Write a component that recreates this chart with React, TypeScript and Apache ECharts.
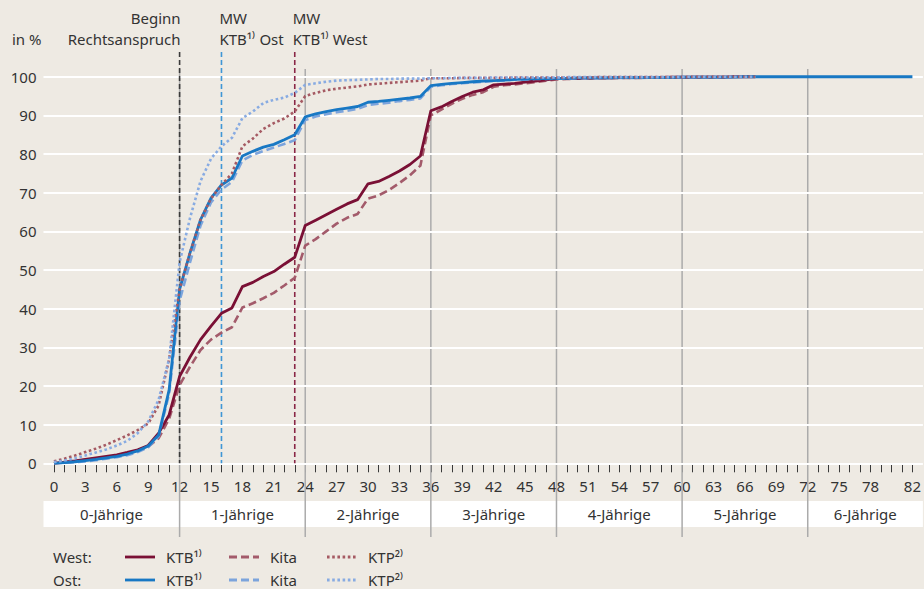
import React, { useEffect, useRef } from "react";
import * as echarts from "echarts";

// Months (x values) 0..82
const months: number[] = [];
for (let i = 0; i <= 82; i++) months.push(i);

const westKTB = [
  0, 0.3, 0.6, 1.0, 1.4, 1.8, 2.2, 2.8, 3.5, 4.6,
  7.8, 12.5, 22.5, 27.5, 32, 35.5, 38.8, 40.2, 45.7, 46.8,
  48.3, 49.6, 51.5, 53.3, 61.5, 62.9, 64.3, 65.7, 67.1, 68.2,
  72.3, 72.9, 74.2, 75.6, 77.3, 79.5, 91.2, 92.2, 93.6, 94.9,
  96, 96.6, 97.9, 98.1, 98.3, 98.6, 98.9, 99.2, 99.5, 99.6,
  99.6, 99.7, 99.7, 99.7, 99.8, 99.8, 99.8, 99.8, 99.8, 99.9,
  99.9, 99.9, 99.9, 99.9, 99.9, 100, 100, 100,
];
const westKita = [
  0, 0.2, 0.5, 0.9, 1.2, 1.5, 1.9, 2.5, 3.2, 4.3,
  6.5, 11.5, 20.2, 25, 29.3, 32, 33.8, 35.2, 40.3, 41.4,
  42.7, 44.1, 46, 48, 56.3, 58, 60, 62, 63.5, 64.5,
  68.5, 69.3, 70.7, 72.5, 74.5, 77, 90, 91.5, 93, 94.3,
  95.3, 96, 97.4, 97.8, 98, 98.3, 98.6, 99, 99.3, 99.4,
  99.5, 99.5, 99.6, 99.6, 99.7, 99.7, 99.7, 99.8, 99.8, 99.8,
  99.8, 99.9, 99.9, 99.9, 99.9, 100, 100, 100,
];
const westKTP = [
  0.5, 1.2, 2, 2.9, 3.8, 4.8, 6, 7.2, 8.6, 10.3,
  15, 27, 45, 54.5, 63, 68.5, 72, 75, 82, 84,
  86.5, 88, 89.2, 91, 95, 95.8, 96.5, 96.9, 97.2, 97.5,
  98, 98.2, 98.4, 98.6, 98.8, 99, 99.6, 99.6, 99.6, 99.7,
  99.7, 99.7, 99.7, 99.7, 99.8, 99.8, 99.8, 99.8, 99.8, 99.8,
  99.8, 99.8, 99.9, 99.9, 99.9, 99.9, 99.9, 99.9, 99.9, 99.9,
  99.9, 100, 100, 100, 100, 100, 100, 100,
];
const ostKTB = [
  0, 0.2, 0.4, 0.7, 1.0, 1.4, 1.8, 2.4, 3.2, 4.5,
  7.3, 19, 45, 54.5, 63, 68.6, 72, 73.8, 79.5, 80.7,
  81.8, 82.5, 83.7, 85, 89.6, 90.4, 91, 91.5, 91.9, 92.3,
  93.4, 93.6, 93.9, 94.2, 94.5, 94.9, 97.7, 98, 98.3, 98.5,
  98.7, 98.9, 99, 99.1, 99.3, 99.4, 99.5, 99.5, 99.6, 99.6,
  99.7, 99.7, 99.7, 99.7, 99.8, 99.8, 99.8, 99.8, 99.8, 99.8,
  99.9, 99.9, 99.9, 99.9, 99.9, 99.9, 100, 100, 100, 100,
  100, 100, 100, 100, 100, 100, 100, 100, 100, 100,
  100, 100, 100,
];
const ostKita = [
  0, 0.1, 0.3, 0.5, 0.8, 1.2, 1.6, 2.1, 2.9, 4.1,
  7, 18, 42, 52, 61.5, 67.5, 70.8, 72.8, 78.3, 79.8,
  80.8, 81.7, 82.6, 83.6, 88.8, 89.7, 90.3, 90.8, 91.2, 91.7,
  92.7, 93, 93.3, 93.7, 94, 94.4, 97.4, 97.8, 98.1, 98.3,
  98.5, 98.7, 98.9, 99, 99.2, 99.3, 99.4, 99.4, 99.5, 99.5,
  99.6, 99.6, 99.6, 99.7, 99.7, 99.7, 99.7, 99.8, 99.8, 99.8,
  99.8, 99.9, 99.9, 99.9, 99.9, 100, 100, 100,
];
const ostKTP = [
  0.3, 0.7, 1.3, 2, 2.8, 3.6, 4.6, 5.8, 7.8, 10.8,
  16.5, 27, 52, 63.5, 73, 78.8, 82, 84.2, 89.3, 91,
  93.2, 94, 94.6, 95.8, 97.9, 98.3, 98.7, 99, 99.1, 99.2,
  99.3, 99.4, 99.4, 99.5, 99.5, 99.5, 99.6, 99.6, 99.7, 99.7,
  99.7, 99.7, 99.8, 99.8, 99.8, 99.8, 99.8, 99.8, 99.8, 99.9,
  99.9, 99.9, 99.9, 99.9, 99.9, 99.9, 99.9, 99.9, 99.9, 99.9,
  100, 100, 100, 100, 100, 100, 100, 100,
];

const xTickLabels = [0, 3, 6, 9, 12, 15, 18, 21, 24, 27, 30, 33, 36, 39, 42, 45, 48, 51, 54, 57, 60, 63, 66, 69, 72, 75, 78, 82];
const yTickLabels = [0, 10, 20, 30, 40, 50, 60, 70, 80, 90, 100];
const ageGroups = ["0-Jährige", "1-Jährige", "2-Jährige", "3-Jährige", "4-Jährige", "5-Jährige", "6-Jährige"];
const ageGroupCenters = [5.5, 18, 30, 42, 54, 66, 77.5];
const yearBoundaries = [12, 24, 36, 48, 60, 72];
const refLineMonths = { beginn: 12, mwOst: 16, mwWest: 23 };

const FONT = '"Noto Sans", "Open Sans", sans-serif';
const TXT = "#333333";
const BG = "#eeeae3";

const C = {
  westKTB: "#7a1035",
  westKita: "#a35b6b",
  westKTP: "#a55a63",
  ostKTB: "#1878c4",
  ostKita: "#7ca4dc",
  ostKTP: "#88abe2",
};

const KITA_DASH = [8, 4];
const KTP_DASH = [2.6, 2.6];

const pairs = (vals: number[]) => vals.map((v, i) => [months[i], v]);

export default function App() {
  const ref = useRef<HTMLDivElement>(null);
  useEffect(() => {
    if (!ref.current) return;
    const chart = echarts.init(ref.current, null, { renderer: "svg" });
    const line = (name: string, data: number[], color: string, type: any, width: number, z: number) => ({
      name,
      type: "line",
      data: pairs(data),
      showSymbol: false,
      symbol: "none",
      z,
      lineStyle: { color, width, type, cap: "butt", join: "round" },
      silent: true,
    });
    chart.setOption({
      animation: false,
      backgroundColor: BG,
      textStyle: { fontFamily: FONT },
      grid: { left: 43.5, right: 0.5, top: 69, bottom: 125.7, containLabel: false },
      xAxis: [
        {
          type: "value",
          min: -1,
          max: 83,
          position: "bottom",
          offset: 3,
          axisLine: { show: false },
          splitLine: { show: false },
          axisTick: {
            show: true,
            customValues: months,
            length: 9,
            lineStyle: { color: "#3a3a3a", width: 1 },
          },
          axisLabel: {
            customValues: xTickLabels,
            formatter: (v: number) => String(v),
            margin: 12,
            fontSize: 15,
            color: TXT,
            fontFamily: FONT,
          },
        },
        {
          type: "value",
          min: -1,
          max: 83,
          position: "bottom",
          offset: 0,
          z: 5,
          axisLine: { show: false },
          splitLine: { show: false },
          axisTick: { show: false },
          axisLabel: {
            customValues: ageGroupCenters,
            formatter: (v: number) => ageGroups[Math.floor(v / 12)],
            margin: 51,
            verticalAlign: "middle",
            fontSize: 15,
            color: TXT,
            fontFamily: FONT,
          },
        },
      ],
      yAxis: {
        type: "value",
        min: 0,
        max: 102,
        interval: 10,
        z: 1,
        axisLine: { show: false },
        axisTick: { show: false },
        splitLine: { show: true, showMaxLine: false, lineStyle: { color: "#ffffff", width: 2 } },
        axisLabel: {
          customValues: yTickLabels,
          formatter: (v: number) => String(v),
          margin: 7,
          fontSize: 15,
          color: TXT,
          fontFamily: FONT,
        },
      },
      series: [
        line("West Kita", westKita, C.westKita, KITA_DASH, 2.6, 3),
        line("West KTB", westKTB, C.westKTB, "solid", 2.8, 4),
        line("Ost Kita", ostKita, C.ostKita, KITA_DASH, 2.6, 5),
        line("Ost KTB", ostKTB, C.ostKTB, "solid", 2.8, 6),
        line("West KTP", westKTP, C.westKTP, KTP_DASH, 2.6, 7),
        line("Ost KTP", ostKTP, C.ostKTP, KTP_DASH, 2.6, 8),
      ],
    });

    const px = (v: number) => chart.convertToPixel({ xAxisIndex: 0 }, v) as number;
    const py = (v: number) => chart.convertToPixel({ yAxisIndex: 0 }, v) as number;

    const left = px(-1);
    const right = px(83);
    const y0 = py(0);
    const yTop = py(102);
    const bandTop = 501;
    const bandH = 26;
    const sepBottom = 537;

    const g: any[] = [];
    g.push({
      type: "rect",
      z: 0,
      silent: true,
      shape: { x: left, y: bandTop, width: right - left, height: bandH },
      style: { fill: "#ffffff" },
    });
    yearBoundaries.forEach((m) => {
      g.push({
        type: "line",
        z: 0.5,
        silent: true,
        shape: { x1: px(m), y1: yTop, x2: px(m), y2: sepBottom },
        style: { stroke: "#ababab", lineWidth: 1.5 },
      });
    });
    const refLine = (m: number, color: string) => ({
      type: "line",
      z: 1.5,
      silent: true,
      shape: { x1: px(m), y1: 52, x2: px(m), y2: y0 },
      style: { stroke: color, lineWidth: 1.6, lineDash: [5, 3] },
    });
    g.push(refLine(refLineMonths.beginn, "#3a3a3a"));
    g.push(refLine(refLineMonths.mwOst, "#3f96d6"));
    g.push(refLine(refLineMonths.mwWest, "#8a2747"));

    const txt = (x: number, y: number, text: string, align: string) => ({
      type: "text",
      z: 10,
      silent: true,
      x,
      y,
      style: {
        text,
        fill: TXT,
        font: `15px ${FONT}`,
        align,
        verticalAlign: "middle",
      },
    });
    const line1 = 17.5;
    const line2 = 38.5;
    g.push(txt(12, line2, "in %", "left"));
    g.push(txt(px(refLineMonths.beginn) + 1, line1, "Beginn", "right"));
    g.push(txt(px(refLineMonths.beginn) + 1, line2, "Rechtsanspruch", "right"));
    g.push(txt(px(refLineMonths.mwOst) - 2, line1, "MW", "left"));
    g.push(txt(px(refLineMonths.mwOst) - 2, line2, "KTB¹⁾ Ost", "left"));
    g.push(txt(px(refLineMonths.mwWest) - 2, line1, "MW", "left"));
    g.push(txt(px(refLineMonths.mwWest) - 2, line2, "KTB¹⁾ West", "left"));

    // Legend
    const legRows = [
      { label: "West:", y: 557, items: [
        { name: "KTB¹⁾", color: C.westKTB, dash: null },
        { name: "Kita", color: C.westKita, dash: KITA_DASH },
        { name: "KTP²⁾", color: C.westKTP, dash: KTP_DASH },
      ] },
      { label: "Ost:", y: 580, items: [
        { name: "KTB¹⁾", color: C.ostKTB, dash: null },
        { name: "Kita", color: C.ostKita, dash: KITA_DASH },
        { name: "KTP²⁾", color: C.ostKTP, dash: KTP_DASH },
      ] },
    ];
    const itemX = [125, 229, 327];
    legRows.forEach((row) => {
      g.push(txt(53, row.y, row.label, "left"));
      row.items.forEach((it, i) => {
        g.push({
          type: "line",
          z: 10,
          silent: true,
          shape: { x1: itemX[i], y1: row.y, x2: itemX[i] + 30, y2: row.y },
          style: { stroke: it.color, lineWidth: 2.8, lineDash: it.dash || undefined },
        });
        g.push(txt(itemX[i] + 41, row.y, it.name, "left"));
      });
    });

    chart.setOption({ graphic: g });

    return () => chart.dispose();
  }, []);

  return (
    <div
      ref={ref}
      style={{ position: "absolute", left: 0, top: 0, width: 924, height: 589, background: BG }}
    />
  );
}
